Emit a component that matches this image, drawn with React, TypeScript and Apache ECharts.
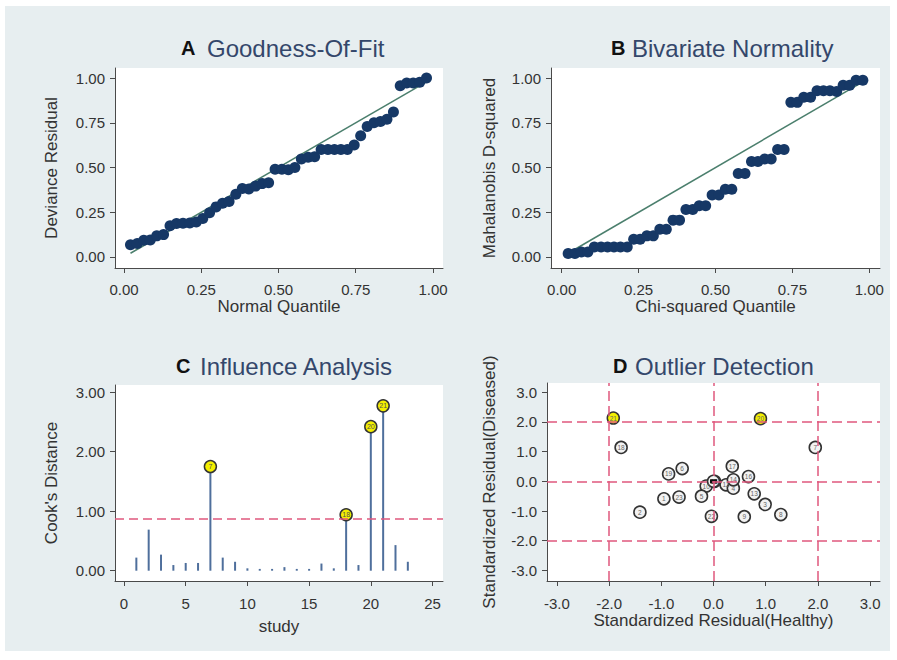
import React, { useEffect, useRef } from "react";
import * as echarts from "echarts";

const FONT = "'Liberation Sans', Arial, Helvetica, sans-serif";

// ---- Panel A / B : quantile plots ----
const quantiles = [
  0.021, 0.043, 0.064, 0.085, 0.106, 0.128, 0.149, 0.17, 0.191, 0.213, 0.234, 0.255,
  0.277, 0.298, 0.319, 0.34, 0.362, 0.383, 0.404, 0.426, 0.447, 0.468, 0.489, 0.511,
  0.532, 0.553, 0.574, 0.596, 0.617, 0.638, 0.66, 0.681, 0.702, 0.723, 0.745, 0.766,
  0.787, 0.809, 0.83, 0.851, 0.872, 0.894, 0.915, 0.936, 0.957, 0.979,
];
const devianceResidual = [
  0.069, 0.075, 0.093, 0.095, 0.118, 0.125, 0.174, 0.187, 0.188, 0.19, 0.196, 0.215,
  0.247, 0.28, 0.3, 0.31, 0.35, 0.383, 0.38, 0.396, 0.41, 0.415, 0.49, 0.49,
  0.488, 0.5, 0.547, 0.557, 0.56, 0.6, 0.6, 0.6, 0.6, 0.6, 0.626, 0.677,
  0.729, 0.75, 0.757, 0.77, 0.81, 0.957, 0.972, 0.972, 0.976, 1.0,
];
const mahalanobisD2 = [
  0.019, 0.019, 0.028, 0.028, 0.056, 0.056, 0.056, 0.056, 0.056, 0.056, 0.099, 0.099,
  0.118, 0.118, 0.155, 0.155, 0.206, 0.206, 0.265, 0.265, 0.286, 0.286, 0.346, 0.346,
  0.378, 0.378, 0.467, 0.467, 0.533, 0.533, 0.548, 0.548, 0.6, 0.6, 0.864, 0.864,
  0.892, 0.892, 0.929, 0.929, 0.929, 0.925, 0.959, 0.959, 0.987, 0.987,
];
const quantileTicks = [0, 0.25, 0.5, 0.75, 1];

// ---- Panel C : influence ----
const studies = [1, 2, 3, 4, 5, 6, 7, 8, 9, 10, 11, 12, 13, 14, 15, 16, 17, 18, 19, 20, 21, 22, 23];
const cooksDistance = [
  0.22, 0.69, 0.27, 0.095, 0.13, 0.13, 1.75, 0.22, 0.15, 0.04, 0.03, 0.03, 0.06, 0.03,
  0.03, 0.12, 0.04, 0.94, 0.095, 2.42, 2.77, 0.43, 0.15,
];
const cooksThreshold = 0.88;
const influentialStudies = [7, 18, 20, 21];
const studyTicks = [0, 5, 10, 15, 20, 25];
const cookTicks = [0, 1, 2, 3];

// ---- Panel D : outliers ----
const outlierStudies = [10, 5, 1, 2, 23, 19, 6, 18, 22, 9, 8, 3, 13, 12, 4, 16, 17, 14, 7, 15, 11];
const residHealthy = [-0.14, -0.23, -0.95, -1.41, -0.66, -0.86, -0.6, -1.77, -0.04, 0.59, 1.29, 0.99, 0.78, 0.24, 0.38, 0.67, 0.36, 0.38, 1.95, 0.02, 0.0];
const residDiseased = [-0.16, -0.5, -0.59, -1.04, -0.53, 0.25, 0.43, 1.14, -1.18, -1.19, -1.12, -0.78, -0.42, -0.12, -0.23, 0.16, 0.51, 0.05, 1.14, 0.0, 0.0];
const flaggedStudies = [21, 20];
const flaggedHealthy = [-1.92, 0.9];
const flaggedDiseased = [2.13, 2.11];
const residTicks = [-3, -2, -1, 0, 1, 2, 3];
const residRefLines = [-2, 0, 2];

// ---- layout ----
const OX = 5;
const OY = 6;
const W = 885;
const H = 645;

const AXIS_COLOR = "#4a4a4a";
const TEXT_COLOR = "#333333";
const TITLE_COLOR = "#34476b";
const DASH_COLOR = "#e0587e";
const POINT_COLOR = "#163866";

function grid(l: number, t: number, w: number, h: number) {
  return {
    left: l - OX,
    top: t - OY,
    width: w,
    height: h,
    show: true,
    backgroundColor: "#ffffff",
    borderWidth: 0,
    containLabel: false,
  };
}

function valueAxis(
  gridIndex: number,
  min: number,
  max: number,
  ticks: number[],
  fmt: (v: number) => string,
  name: string,
  nameGap: number,
  margin: number
) {
  return {
    type: "value",
    gridIndex,
    min,
    max,
    name,
    nameLocation: "middle",
    nameGap,
    nameTextStyle: { fontSize: 17, color: TEXT_COLOR, fontFamily: FONT },
    axisLine: { show: true, onZero: false, lineStyle: { color: AXIS_COLOR, width: 1 } },
    axisTick: { show: true, length: 5, inside: false, customValues: ticks, lineStyle: { color: AXIS_COLOR, width: 1 } },
    axisLabel: {
      show: true,
      customValues: ticks,
      formatter: (v: number) => fmt(v),
      fontSize: 15,
      color: TEXT_COLOR,
      fontFamily: FONT,
      margin,
    },
    splitLine: { show: false },
  };
}

function titleGraphic(letter: string, lx: number, text: string, tx: number, y: number) {
  return [
    {
      type: "text",
      x: lx - OX,
      y: y - OY,
      style: { text: letter, fill: "#111111", font: `bold 20px ${FONT}`, verticalAlign: "middle", align: "left" },
    },
    {
      type: "text",
      x: tx - OX,
      y: y - OY,
      style: { text, fill: TITLE_COLOR, font: `24px ${FONT}`, verticalAlign: "middle", align: "left" },
    },
  ];
}

const f2 = (v: number) => v.toFixed(2);
const f1 = (v: number) => v.toFixed(1);
const f0 = (v: number) => String(Math.round(v));

function buildOption() {
  const first = quantiles[0];
  const last = quantiles[quantiles.length - 1];
  const refLine = [
    [first, first],
    [last, last],
  ];

  return {
    animation: false,
    backgroundColor: "#e7eef0",
    textStyle: { fontFamily: FONT },
    grid: [
      grid(115, 68, 328, 200),
      grid(551, 68, 329, 200),
      grid(115, 385, 328, 196),
      grid(547, 383, 333, 198),
    ],
    xAxis: [
      valueAxis(0, -0.0291, 1.0324, quantileTicks, f2, "Normal Quantile", 29, 14),
      valueAxis(1, -0.0348, 1.0348, quantileTicks, f2, "Chi-squared Quantile", 29, 14),
      valueAxis(2, -0.73, 25.85, studyTicks, f0, "study", 37, 15),
      valueAxis(3, -3.19, 3.19, residTicks, f1, "Standardized Residual(Healthy)", 31, 15),
    ],
    yAxis: [
      valueAxis(0, -0.0615, 1.056, quantileTicks, f2, "Deviance Residual", 55, 10),
      valueAxis(1, -0.0615, 1.056, quantileTicks, f2, "Mahalanobis D-squared", 53, 10),
      valueAxis(2, -0.173, 3.12, cookTicks, f2, "Cook's Distance", 55, 10),
      valueAxis(3, -3.357, 3.31, residTicks, f1, "Standardized Residual(Diseased)", 49, 10),
    ],
    graphic: [
      ...titleGraphic("A", 181, "Goodness-Of-Fit", 207, 48),
      ...titleGraphic("B", 611, "Bivariate Normality", 632, 48),
      ...titleGraphic("C", 176, "Influence Analysis", 200, 366),
      ...titleGraphic("D", 613, "Outlier Detection", 635, 366),
    ],
    series: [
      // A
      {
        type: "line",
        xAxisIndex: 0,
        yAxisIndex: 0,
        data: refLine,
        symbol: "none",
        lineStyle: { color: "#4b7f6d", width: 1.5 },
        z: 2,
      },
      {
        type: "scatter",
        xAxisIndex: 0,
        yAxisIndex: 0,
        data: quantiles.map((q, i) => [q, devianceResidual[i]]),
        symbolSize: 11,
        itemStyle: { color: POINT_COLOR, opacity: 1 },
        z: 3,
      },
      // B
      {
        type: "line",
        xAxisIndex: 1,
        yAxisIndex: 1,
        data: refLine,
        symbol: "none",
        lineStyle: { color: "#4b7f6d", width: 1.5 },
        z: 2,
      },
      {
        type: "scatter",
        xAxisIndex: 1,
        yAxisIndex: 1,
        data: quantiles.map((q, i) => [q, mahalanobisD2[i]]),
        symbolSize: 11,
        itemStyle: { color: POINT_COLOR, opacity: 1 },
        z: 3,
      },
      // C
      {
        type: "bar",
        xAxisIndex: 2,
        yAxisIndex: 2,
        data: studies.map((s, i) => [s, cooksDistance[i]]),
        barWidth: 2,
        itemStyle: { color: "#4f6f9c" },
        z: 2,
        markLine: {
          silent: true,
          symbol: ["none", "none"],
          label: { show: false },
          lineStyle: { type: [9, 5], color: DASH_COLOR, width: 1.5 },
          data: [{ yAxis: cooksThreshold }],
        },
      },
      {
        type: "scatter",
        xAxisIndex: 2,
        yAxisIndex: 2,
        data: influentialStudies.map((s) => ({ value: [s, cooksDistance[s - 1]], name: String(s) })),
        symbolSize: 12,
        itemStyle: { color: "#f3ef00", borderColor: "#333333", borderWidth: 1.5, opacity: 1 },
        label: { show: true, position: "inside", formatter: "{b}", fontSize: 7, color: "#555555" },
        z: 4,
      },
      // D reference lines
      {
        type: "scatter",
        xAxisIndex: 3,
        yAxisIndex: 3,
        data: [],
        z: 1,
        markLine: {
          silent: true,
          symbol: ["none", "none"],
          label: { show: false },
          lineStyle: { type: [10, 5], color: DASH_COLOR, width: 1.5 },
          data: [
            ...residRefLines.map((v) => ({ xAxis: v })),
            ...residRefLines.map((v) => ({ yAxis: v })),
          ],
        },
      },
      {
        type: "scatter",
        xAxisIndex: 3,
        yAxisIndex: 3,
        data: outlierStudies.map((s, i) => ({ value: [residHealthy[i], residDiseased[i]], name: String(s) })),
        symbolSize: 12,
        itemStyle: { color: "#f2f2f2", borderColor: "#333333", borderWidth: 1.6, opacity: 1 },
        label: { show: true, position: "inside", formatter: "{b}", fontSize: 6.5, color: "#666666" },
        z: 3,
      },
      {
        type: "scatter",
        xAxisIndex: 3,
        yAxisIndex: 3,
        data: [[0, 0]],
        symbol: "rect",
        symbolSize: [7, 4],
        itemStyle: { color: "#111111", opacity: 1 },
        z: 4,
      },
      {
        type: "scatter",
        xAxisIndex: 3,
        yAxisIndex: 3,
        data: flaggedStudies.map((s, i) => ({ value: [flaggedHealthy[i], flaggedDiseased[i]], name: String(s) })),
        symbolSize: 12,
        itemStyle: { color: "#f3ef00", borderColor: "#333333", borderWidth: 1.5, opacity: 1 },
        label: { show: true, position: "inside", formatter: "{b}", fontSize: 6.5, color: "#666666" },
        z: 4,
      },
    ],
  };
}

export default function App() {
  const ref = useRef<HTMLDivElement>(null);
  useEffect(() => {
    if (!ref.current) return;
    const chart = echarts.init(ref.current, null, { renderer: "svg" });
    chart.setOption(buildOption() as any);
    return () => chart.dispose();
  }, []);
  return (
    <div style={{ position: "fixed", left: 0, top: 0, width: 897, height: 660, background: "#ffffff" }}>
      <div ref={ref} style={{ position: "absolute", left: OX, top: OY, width: W, height: H }} />
    </div>
  );
}
